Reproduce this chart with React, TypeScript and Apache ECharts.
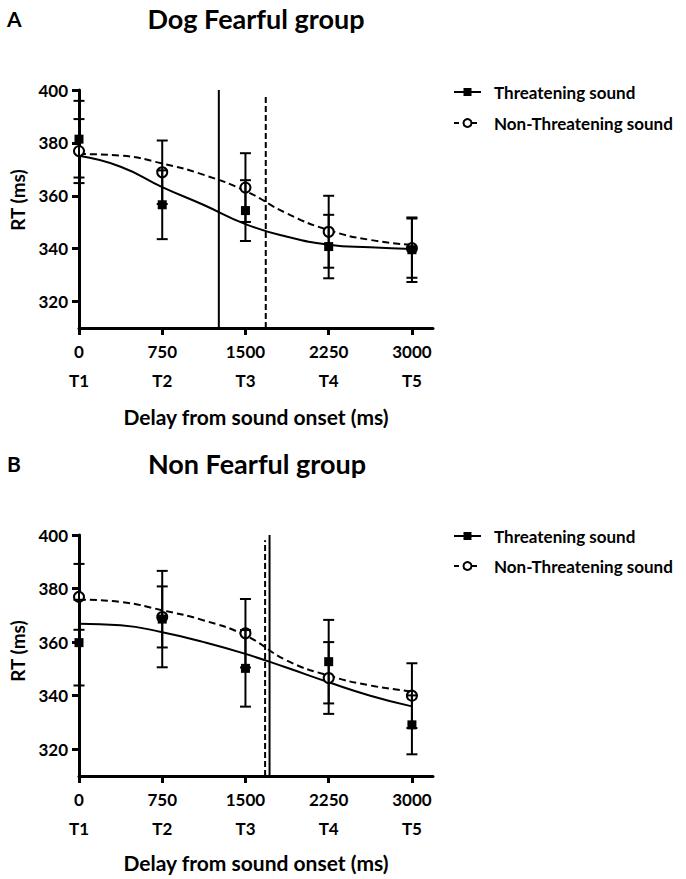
import React, { useEffect, useRef } from "react";
import * as echarts from "echarts";

// ---------- data ----------
const tickValues = [0, 750, 1500, 2250, 3000];
const timeLabels = ["T1", "T2", "T3", "T4", "T5"];
const yTicks = [320, 340, 360, 380, 400];

// Panel A: Dog Fearful group
const threatA = [381.4, 356.6, 354.4, 340.8, 339.6];
const threatErrA = [14.5, 13, 11.5, 12, 12.2];
const nonA = [376.9, 368.9, 363.1, 346.4, 340.2];
const nonErrA = [12.1, 12, 13, 13.6, 11.2];

// Panel B: Non Fearful group
const threatB = [359.8, 368.6, 350.2, 352.7, 329.1];
const threatErrB = [16, 18, 14.3, 15.6, 11];
const nonB = [376.9, 369.4, 363.3, 346.6, 340.0];
const nonErrB = [12.3, 11.4, 12.8, 13.4, 12.1];

// fitted curves
const curveX = [0, 375, 750, 1125, 1500, 1875, 2250, 2625, 3000];
const curveThreatA = [375.1, 371.0, 363.3, 356.5, 349.3, 344.5, 341.5, 340.5, 339.9];
const curveNonA = [375.8, 375.2, 372.2, 367.9, 361.8, 353.3, 347.0, 343.3, 341.4];
const curveThreatB = [366.9, 366.3, 363.7, 360.0, 355.6, 350.4, 345.0, 340.0, 336.0];
const curveNonB = [375.9, 375.0, 371.9, 368.1, 362.5, 353.1, 347.5, 343.8, 341.6];

// vertical reference lines [x, top]
const vlineThreatA = [1260, 400];
const vlineNonA = [1683, 398.5];
const vlineThreatB = [1717, 400];
const vlineNonB = [1677, 398];

const Y_MIN = 310;
const Y_MAX = 400;
const X_MAX = 3190;

const FONT = "Lato";

const bold = (size: number) => ({
  fontFamily: FONT,
  fontWeight: "bold" as const,
  fontSize: size,
  color: "#000",
});

const errData = (vals: number[], errs: number[]) =>
  tickValues.map((x, i) => [x, vals[i] - errs[i], vals[i] + errs[i]]);

const pairs = (xs: number[], ys: number[]) => xs.map((x, i) => [x, ys[i]]);

const errorBarRender = (params: any, api: any) => {
  const x = api.value(0);
  const lo = api.value(1);
  const hi = api.value(2);
  const top = api.coord([x, hi]);
  const bot = api.coord([x, lo]);
  const hw = 5.5;
  const style = { stroke: "#000", lineWidth: 2 };
  return {
    type: "group",
    children: [
      { type: "line", shape: { x1: top[0], y1: top[1], x2: bot[0], y2: bot[1] }, style },
      { type: "line", shape: { x1: top[0] - hw, y1: top[1], x2: top[0] + hw, y2: top[1] }, style },
      { type: "line", shape: { x1: bot[0] - hw, y1: bot[1], x2: bot[0] + hw, y2: bot[1] }, style },
    ],
  };
};

const panelSeries = (
  idx: number,
  threat: number[],
  threatErr: number[],
  non: number[],
  nonErr: number[],
  cThreat: number[],
  cNon: number[],
  vThreat: number[],
  vNon: number[]
) => [
  {
    type: "line",
    xAxisIndex: idx,
    yAxisIndex: idx,
    data: pairs(curveX, cThreat),
    smooth: 0.5,
    showSymbol: false,
    symbol: "none",
    lineStyle: { color: "#000", width: 2 },
    z: 2,
    silent: true,
  },
  {
    type: "line",
    xAxisIndex: idx,
    yAxisIndex: idx,
    data: pairs(curveX, cNon),
    smooth: 0.5,
    showSymbol: false,
    symbol: "none",
    lineStyle: { color: "#000", width: 2, type: [7, 4] },
    z: 2,
    silent: true,
  },
  {
    type: "line",
    xAxisIndex: idx,
    yAxisIndex: idx,
    data: [
      [vThreat[0], Y_MIN],
      [vThreat[0], vThreat[1]],
    ],
    symbol: "none",
    lineStyle: { color: "#000", width: 2 },
    z: 2,
    silent: true,
  },
  {
    type: "line",
    xAxisIndex: idx,
    yAxisIndex: idx,
    data: [
      [vNon[0], Y_MIN],
      [vNon[0], vNon[1]],
    ],
    symbol: "none",
    lineStyle: { color: "#000", width: 2, type: [6, 3] },
    z: 2,
    silent: true,
  },
  {
    type: "scatter",
    xAxisIndex: idx,
    yAxisIndex: idx,
    data: pairs(tickValues, non),
    symbol: "circle",
    symbolSize: 10,
    itemStyle: { color: "#fff", borderColor: "#000", borderWidth: 2, opacity: 1 },
    z: 3,
    silent: true,
  },
  {
    type: "custom",
    xAxisIndex: idx,
    yAxisIndex: idx,
    data: errData(non, nonErr),
    renderItem: errorBarRender,
    z: 4,
    silent: true,
  },
  {
    type: "custom",
    xAxisIndex: idx,
    yAxisIndex: idx,
    data: errData(threat, threatErr),
    renderItem: errorBarRender,
    z: 4,
    silent: true,
  },
  {
    type: "scatter",
    xAxisIndex: idx,
    yAxisIndex: idx,
    data: pairs(tickValues, threat),
    symbol: "rect",
    symbolSize: 9,
    itemStyle: { color: "#000", opacity: 1 },
    z: 5,
    silent: true,
  },
];

const xAxisFor = (gridIndex: number, nameGap: number) => ({
  type: "value",
  gridIndex,
  min: 0,
  max: X_MAX,
  axisLine: { show: true, onZero: false, lineStyle: { color: "#000", width: 3 } },
  axisTick: {
    show: true,
    customValues: tickValues,
    length: 7,
    lineStyle: { color: "#000", width: 3 },
  },
  axisLabel: {
    customValues: tickValues,
    margin: 9,
    formatter: (v: number) => {
      const i = tickValues.indexOf(v);
      return `{a|${v}}\n{b|${timeLabels[i] ?? ""}}`;
    },
    rich: {
      a: { ...bold(17), lineHeight: 29 },
      b: { ...bold(17), lineHeight: 29 },
    },
  },
  splitLine: { show: false },
  name: "Delay from sound onset (ms)",
  nameLocation: "middle",
  nameGap,
  nameTextStyle: { ...bold(21), lineHeight: 21 },
});

const yAxisFor = (gridIndex: number, shift: number) => ({
  type: "value",
  gridIndex,
  min: Y_MIN,
  max: Y_MAX,
  axisLine: { show: true, onZero: false, lineStyle: { color: "#000", width: 3 } },
  axisTick: {
    show: true,
    customValues: yTicks,
    length: 7,
    lineStyle: { color: "#000", width: 3 },
  },
  axisLabel: { customValues: yTicks, margin: 11, ...bold(17) },
  splitLine: { show: false },
  name: "RT (ms)",
  nameLocation: "middle",
  nameRotate: 90,
  nameGap: 52,
  nameTextStyle: { ...bold(19), padding: [0, 0, 0, shift] },
});

const legendFor = (top: number, gap: number) => ({
  orient: "vertical",
  left: 448,
  top,
  itemWidth: 27,
  itemHeight: 10,
  itemGap: gap,
  selectedMode: false,
  data: ["Threatening sound", "Non-Threatening sound"],
  textStyle: { ...bold(17), lineHeight: 20, padding: [0, 0, 0, 8] },
});

export default function App() {
  const ref = useRef<HTMLDivElement>(null);

  useEffect(() => {
    document.body.style.margin = "0";
    if (!ref.current) return;
    const chart = echarts.init(ref.current, undefined, { renderer: "svg" });

    const option: any = {
      animation: false,
      backgroundColor: "#fff",
      textStyle: { fontFamily: FONT },
      grid: [
        { left: 78, top: 90, width: 355, height: 238 },
        { left: 78, top: 535, width: 355, height: 241 },
      ],
      xAxis: [xAxisFor(0, 78), xAxisFor(1, 76)],
      yAxis: [yAxisFor(0, 18), yAxisFor(1, 9)],
      legend: [legendFor(77, 11), legendFor(521, 10)],
      graphic: [
        { type: "text", x: 7, y: 18, style: { text: "A", fill: "#000", font: `bold 21px ${FONT}`, verticalAlign: "middle" } },
        { type: "text", x: 256, y: 18, style: { text: "Dog Fearful group", fill: "#000", font: `bold 27px ${FONT}`, align: "center", verticalAlign: "middle" } },
        { type: "text", x: 7, y: 463, style: { text: "B", fill: "#000", font: `bold 21px ${FONT}`, verticalAlign: "middle" } },
        { type: "text", x: 257, y: 463, style: { text: "Non Fearful group", fill: "#000", font: `bold 27px ${FONT}`, align: "center", verticalAlign: "middle" } },
      ],
      series: [
        {
          name: "Threatening sound",
          type: "line",
          xAxisIndex: 0,
          yAxisIndex: 0,
          data: [],
          symbol: "rect",
          symbolSize: 8,
          itemStyle: { color: "#000" },
          lineStyle: { color: "#000", width: 2 },
        },
        {
          name: "Non-Threatening sound",
          type: "line",
          xAxisIndex: 0,
          yAxisIndex: 0,
          data: [],
          symbol: "emptyCircle",
          symbolSize: 9,
          itemStyle: { color: "#000" },
          lineStyle: { color: "#000", width: 2, type: [5, 4] },
        },
        ...panelSeries(0, threatA, threatErrA, nonA, nonErrA, curveThreatA, curveNonA, vlineThreatA, vlineNonA),
        ...panelSeries(1, threatB, threatErrB, nonB, nonErrB, curveThreatB, curveNonB, vlineThreatB, vlineNonB),
      ],
    };

    chart.setOption(option);
    return () => chart.dispose();
  }, []);

  return <div ref={ref} style={{ width: 686, height: 879 }} />;
}
